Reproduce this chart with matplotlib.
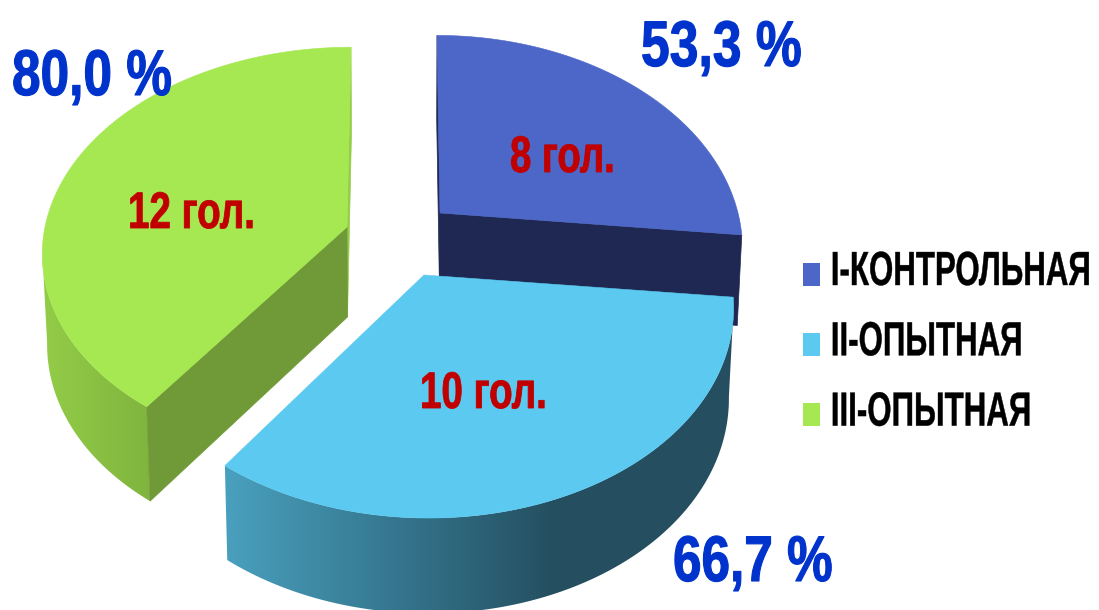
import numpy as np
import matplotlib
matplotlib.use("Agg")
import matplotlib.pyplot as plt
import matplotlib.patheffects as pe
from matplotlib.colors import LinearSegmentedColormap
from matplotlib.patches import Patch, Polygon
from matplotlib.transforms import Affine2D

# Herd groups and their results
groups = ["I-КОНТРОЛЬНАЯ", "II-ОПЫТНАЯ", "III-ОПЫТНАЯ"]
heads = [8, 10, 12]
head_labels = ["8 гол.", "10 гол.", "12 гол."]
share_labels = ["53,3 %", "66,7 %", "80,0 %"]

top_colors = ["#4c67c8", "#5bc9f0", "#a6e852"]
back_cut_colors = ["#1e2852", None, "#94cd48"]
side_cut_colors = ["#1e2852", None, "#709938"]
wall_stops = [
    [(0.0, "#1e2852"), (1.0, "#1e2852")],
    [(0.0, "#49a0be"), (0.38, "#327087"), (0.637, "#254f60"), (1.0, "#254f60")],
    [(0.0, "#94cd48"), (1.0, "#7fb43e")],
]
# Exploded slice centres, projection of each slice, gradient span of each wall
centres = [(440, 213), (424, 275), (347, 227)]
shapes = [(298, 206, 0.16, 418), (306, 209, 0.14, 395), (302, 201, 0.118, 385)]
wall_x = [(430, 745), (225, 740), (40, 152)]

DEPTH = 90.0
FONT = "Liberation Sans"


class TallGlyphs(pe.AbstractPathEffect):
    """Stretch glyphs upward from the baseline, with an optional outline for weight."""

    def __init__(self, factor, stroke=0.0):
        super().__init__()
        self.factor = factor
        self.stroke = stroke

    def draw_path(self, renderer, gc, tpath, affine, rgbFace=None):
        gc2 = renderer.new_gc()
        gc2.copy_properties(gc)
        gc2.set_foreground(rgbFace)
        gc2.set_linewidth(self.stroke)
        renderer.draw_path(gc2, tpath, Affine2D().scale(1, self.factor) + affine, rgbFace)
        gc2.restore()


def fit_text(text, width_px, tall_size, stroke, renderer):
    """Size a text to a pixel width, then stretch it to the height of tall_size."""
    text.set_fontsize(tall_size)
    ratio = width_px / text.get_window_extent(renderer).width
    text.set_fontsize(tall_size * ratio)
    text.set_path_effects([TallGlyphs(1 / ratio, stroke)])


def rim(cx, cy, angle, shape):
    """Project points on the disc edge; angles run clockwise from the back."""
    wide, tall, persp, vanish = shape
    x_u, y_u = np.sin(angle), np.cos(angle)
    w = 1 + persp * y_u
    return (cx + wide * x_u / w + (vanish - cx) * persp * y_u / w,
            cy - tall * y_u / w,
            y_u)


def drop(x, y, y_u, vanish):
    """Move points of the top face down to the base of the slice."""
    return x + (vanish - x) * 0.014, y + DEPTH * (1 - 0.06 * y_u)


fig = plt.figure(figsize=(10.99, 6.10), dpi=100, facecolor="white")
ax = fig.add_axes([0, 0, 1, 1])
ax.axis("off")
renderer = fig.canvas.get_renderer()

edges = np.deg2rad(np.cumsum([0] + heads) / sum(heads) * 360)

# The near slice goes last so it overlaps the dark cut of the first one
for order, i in enumerate((0, 2, 1)):
    cx, cy = centres[i]
    shape = shapes[i]
    t = np.linspace(edges[i], edges[i + 1], 360)
    x, y, yu = rim(cx, cy, t, shape)
    xb, yb = drop(x, y, yu, shape[3])
    xc, yc = drop(cx, cy, 0.0, shape[3])
    z = 2 + order

    # Outer wall, only on the part of the rim that faces the viewer
    front = yu <= -shape[2]
    if front.sum() > 1:
        cmap = LinearSegmentedColormap.from_list(f"wall{i}", wall_stops[i])
        outline = Polygon(np.r_[np.c_[x[front], y[front]], np.c_[xb[front], yb[front]][::-1]],
                          closed=True, transform=ax.transData, fc="none", ec="none")
        lo, hi = wall_x[i]
        image = ax.imshow(np.linspace(0, 1, 512)[None, :], cmap=cmap, extent=(lo, hi, 610, 0),
                          aspect="auto", zorder=z, interpolation="bilinear")
        image.set_clip_path(outline)

    # Flat cut faces on both sides of the slice
    faces = ((0, back_cut_colors[i]), (-1, side_cut_colors[i])) if i == 0 else \
            ((-1, back_cut_colors[i]), (0, side_cut_colors[i]))
    for end, colour in faces:
        if colour is None:
            continue
        ax.add_patch(Polygon([(cx, cy), (x[end], y[end]), (xb[end], yb[end]), (xc, yc)],
                             closed=True, fc=colour, ec=colour, lw=0.5, zorder=z + 0.1))

    ax.add_patch(Polygon(np.r_[[(cx, cy)], np.c_[x, y]], closed=True, fc=top_colors[i],
                         ec=top_colors[i], lw=0.4, zorder=z + 0.2))

ax.set_xlim(0, 1099)
ax.set_ylim(610, 0)

# Head counts on the slices, shares beside them; each is (left, baseline, width)
head_pos = [(510, 172, 105), (420, 408, 127), (128, 228, 127)]
share_pos = [(641, 66, 161), (673, 581, 160), (12, 95, 160)]
for (px, py, width), label in zip(head_pos, head_labels):
    text = ax.text(px, py, label, ha="left", va="baseline", color="#c00000",
                   fontweight="bold", family=FONT, zorder=9)
    fit_text(text, width, 37, 0.6, renderer)
for (px, py, width), label in zip(share_pos, share_labels):
    text = ax.text(px, py, label, ha="left", va="baseline", color="#0033cc",
                   fontweight="bold", family=FONT, zorder=9)
    fit_text(text, width, 46.5, 0.8, renderer)

handles = [Patch(facecolor=c, edgecolor="none") for c in top_colors]
legend = ax.legend(handles, groups, loc="upper left", bbox_to_anchor=(803 / 1099, 1 - 262 / 610),
                   frameon=False, prop={"family": FONT, "size": 22.5, "weight": "bold"},
                   labelcolor="black", handlelength=0.54, handleheight=0.76, handletextpad=0.35,
                   labelspacing=1.29, borderpad=0, borderaxespad=0)
legend.set_zorder(9)
for text in legend.get_texts():
    text.set_path_effects([TallGlyphs(34.5 / 22.5, 0.3)])

fig.savefig("out.png", dpi=100)
